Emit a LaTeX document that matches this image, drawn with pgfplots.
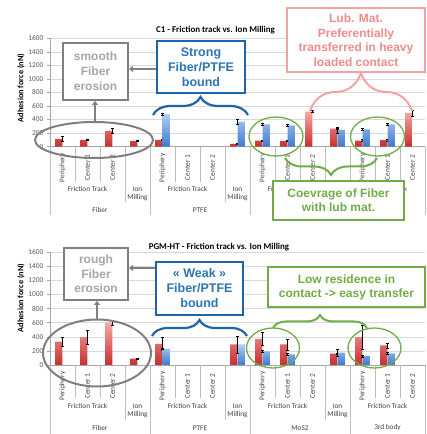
\documentclass[border=0pt]{standalone}
\usepackage{pgfplots}
\pgfplotsset{compat=1.18}
\usepackage{pgfplotstable}
\usepackage{fontspec}
\setmainfont{Carlito}
\newfontfamily\annfont{Liberation Sans}
\usetikzlibrary{decorations.pathreplacing,arrows.meta}

\definecolor{redtop}{HTML}{F6A8A8}
\definecolor{redbot}{HTML}{C62F2D}
\definecolor{bluetop}{HTML}{B0CEF2}
\definecolor{bluebot}{HTML}{3D79CF}
\definecolor{gridgray}{HTML}{D9D9D9}
\definecolor{axgray}{HTML}{A6A6A6}
\definecolor{sepgray}{HTML}{BFBFBF}
\definecolor{labgray}{HTML}{404040}
\definecolor{tickgray}{HTML}{595959}
\definecolor{anngray}{HTML}{808080}
\definecolor{anngraytext}{HTML}{A6A6A6}
\definecolor{annblue}{HTML}{1F63A8}
\definecolor{annbluetext}{HTML}{2E75B6}
\definecolor{annpink}{HTML}{F4A3A3}
\definecolor{annpinktext}{HTML}{F08C8C}
\definecolor{anngreen}{HTML}{70AD47}

% C1 - Friction track vs. Ion Milling
\pgfplotstableread{
x y e
0 114 40
1 99 8
2 232 40
3 84 8
4 99 10
7 40 5
8 89 10
9 84 8
10 519 12
11 267 8
12 89 15
13 99 12
14 494 40
}\topred
\pgfplotstableread{
x y e
4 479 12
7 370 35
8 331 12
9 316 10
11 247 45
12 257 10
13 331 15
}\topblue
% PGM-HT - Friction track vs. Ion Milling
\pgfplotstableread{
x y e
0 333 60
1 395 105
2 600 30
3 90 10
4 300 90
7 292 120
8 372 95
9 292 80
11 160 8
12 395 165
13 278 35
}\botred
\pgfplotstableread{
x y e
4 228 10
7 292 120
8 193 10
9 150 10
11 174 45
12 127 10
13 165 10
}\botblue

\newcommand{\catfont}{\fontsize{7.3}{8}\selectfont}

\pgfplotsset{
  adh/.style={
    scale only axis, width=375pt,
    xmin=-0.5, xmax=14.5, ymin=0, ymax=1600,
    axis lines*=left,
    axis line style={draw=axgray, line width=0.6pt},
    ymajorgrids, grid style={draw=gridgray, line width=0.6pt},
    ytick={0,200,...,1600},
    tick align=outside, major tick length=3pt,
    ytick style={draw=axgray, line width=0.6pt},
    xtick={0,...,14},
    xtick style={draw=none},
    xticklabels={Periphery,Center 1,Center 2,,Periphery,Center 1,Center 2,,Periphery,Center 1,Center 2,,Periphery,Center 1,Center 2},
    xticklabel style={yshift=-18pt, rotate=90, anchor=center, font=\catfont, text=labgray},
    yticklabel style={font=\fontsize{7.4}{8}\selectfont, text=tickgray},
    /pgf/number format/assume math mode=true,
    /pgf/number format/1000 sep={},
    clip=false,
  },
  redbar/.style={ybar, bar width=0.29, bar shift=-0.15, draw=none, top color=redtop, bottom color=redbot,
    error bars/.cd, y dir=both, y explicit,
    error bar style={black, line width=0.5pt},
    error mark options={black, line width=0.5pt, mark size=1.3pt, rotate=90}},
  bluebar/.style={ybar, bar width=0.29, bar shift=0.15, draw=none, top color=bluetop, bottom color=bluebot,
    error bars/.cd, y dir=both, y explicit,
    error bar style={black, line width=0.5pt},
    error mark options={black, line width=0.5pt, mark size=1.3pt, rotate=90}},
}

\begin{document}
\begin{tikzpicture}
\path[use as bounding box] (0pt,0pt) rectangle (427pt,434pt);

\begin{axis}[adh, height=108.4pt, at={(50pt,287.3pt)}, anchor=south west]
\addplot[redbar] table[x=x, y=y, y error=e] {\topred};
\addplot[bluebar] table[x=x, y=y, y error=e] {\topblue};
\end{axis}

\begin{axis}[adh, height=112.7pt, at={(50pt,69pt)}, anchor=south west]
\addplot[redbar] table[x=x, y=y, y error=e] {\botred};
\addplot[bluebar] table[x=x, y=y, y error=e] {\botblue};
\end{axis}

\begin{scope}[x=1pt, y=-1pt, shift={(0pt,434pt)}]
% ---------- category table lines ----------
\foreach \yz/\ya/\yb/\yc in {146.7/182/202/215, 365/398/420/434}{
  \foreach \x in {75,100,175,200,275,300,375,400} \draw[sepgray, line width=0.6pt] (\x,\yz) -- (\x,\ya);
  \foreach \x in {125,225,325} \draw[sepgray, line width=0.6pt] (\x,\yz) -- (\x,\yb);
  \foreach \x in {50,150,250,350,425} \draw[sepgray, line width=0.6pt] (\x,\yz) -- (\x,\yc);
}
% top chart: second and third label rows (the MoS2 / 3rd body ones are hidden behind the green box)
\foreach \x in {87.5,187.5,287.5,387.5}
  \node[font=\catfont, text=labgray] at (\x,189) {Friction Track};
\foreach \x in {137.5,237.5}
  \node[font=\catfont, text=labgray, align=center] at (\x,193.5) {Ion\\Milling};
\node[font=\catfont, text=labgray] at (100,210) {Fiber};
\node[font=\catfont, text=labgray] at (200,210) {PTFE};
% bottom chart
\foreach \x in {87.5,187.5,287.5,387.5}
  \node[font=\catfont, text=labgray] at (\x,406) {Friction Track};
\foreach \x in {137.5,237.5,337.5}
  \node[font=\catfont, text=labgray, align=center] at (\x,410.5) {Ion\\Milling};
\node[font=\catfont, text=labgray] at (100,428) {Fiber};
\node[font=\catfont, text=labgray] at (200,428) {PTFE};
\node[font=\catfont, text=labgray] at (300,428) {MoS2};
\node[font=\catfont, text=labgray] at (387.5,428) {3rd body};

% titles and axis labels
\node[font=\bfseries\fontsize{8.9}{9}\selectfont] at (215.5,30) {C1 - Friction track vs. Ion Milling};
\node[font=\bfseries\fontsize{8.9}{9}\selectfont] at (219,247) {PGM-HT - Friction track vs. Ion Milling};
\node[font=\bfseries\fontsize{8.3}{9}\selectfont, rotate=90] at (21,88) {Adhesion force (nN)};
\node[font=\bfseries\fontsize{8.3}{9}\selectfont, rotate=90] at (21,298) {Adhesion force (nN)};

% ---------- annotations: top chart ----------
\draw[anngray, line width=2pt] (94,140) ellipse[x radius=59, y radius=18];
\draw[anngray, line width=2pt, -{Triangle[length=4pt,width=6pt]}] (95,122) -- (95,101);
\draw[anngray, line width=2pt, -{Triangle[length=4pt,width=6pt]}] (157,69) -- (129,69);
\node[draw=anngray, line width=2pt, fill=white, minimum width=65pt, minimum height=57pt, inner sep=0pt,
  text=anngraytext, font=\annfont\bfseries\fontsize{12}{15}\selectfont, align=center] at (95.5,71.5) {smooth\\Fiber\\erosion};
\node[draw=annblue, line width=2.2pt, fill=white, minimum width=88pt, minimum height=52pt, inner sep=0pt,
  text=annbluetext, font=\annfont\bfseries\fontsize{12.5}{15}\selectfont, align=center] at (201,67) {Strong\\Fiber/PTFE\\bound};
\draw[annblue, line width=2.2pt, decorate, decoration={brace, amplitude=18pt}] (153,115) -- (248,115);

\draw[annpink, line width=2pt, decorate, decoration={brace, amplitude=38pt}] (310,111) -- (412,111);
\node[draw=annpink, line width=2pt, fill=white, minimum width=138pt, minimum height=64pt, inner sep=0pt,
  text=annpinktext, font=\annfont\bfseries\fontsize{12}{14.5}\selectfont, align=center] at (356,40) {Lub. Mat.\\Preferentially\\transferred in heavy\\loaded contact};

\draw[anngreen, line width=1.3pt] (276,136.5) ellipse[x radius=27, y radius=19.5];
\draw[anngreen, line width=1.3pt] (377.5,136.5) ellipse[x radius=27, y radius=19.5];
\draw[anngreen, line width=2pt, decorate, decoration={brace, amplitude=17pt}] (377,158) -- (285,158);
\node[draw=anngreen, line width=2pt, fill=white, minimum width=131pt, minimum height=39pt, inner sep=0pt,
  text=anngreen, font=\annfont\bfseries\fontsize{12}{14}\selectfont, align=center] at (338.5,200.5) {Coevrage of Fiber\\with lub mat.};

% ---------- annotations: bottom chart ----------
\draw[anngray, line width=2pt] (97,353) ellipse[x radius=54, y radius=33.5];
\draw[anngray, line width=2pt, -{Triangle[length=4pt,width=6pt]}] (97,319) -- (97,301);
\draw[anngray, line width=2pt, -{Triangle[length=4pt,width=6pt]}] (156,268) -- (129,268);
\node[draw=anngray, line width=2pt, fill=white, minimum width=64pt, minimum height=52pt, inner sep=0pt,
  text=anngraytext, font=\annfont\bfseries\fontsize{12}{14.5}\selectfont, align=center] at (96,274) {rough\\Fiber\\erosion};
\node[draw=annblue, line width=2.2pt, fill=white, minimum width=87pt, minimum height=53pt, inner sep=0pt,
  text=annbluetext, font=\annfont\bfseries\fontsize{12.5}{15}\selectfont, align=center] at (199.5,288.5) {« Weak »\\Fiber/PTFE\\bound};
\draw[annblue, line width=2.2pt, decorate, decoration={brace, amplitude=16pt}] (152,336) -- (247,336);

\draw[anngreen, line width=1.3pt] (273,348) ellipse[x radius=26.5, y radius=20];
\draw[anngreen, line width=1.3pt] (374.5,348) ellipse[x radius=26.5, y radius=20];
\draw[anngreen, line width=2pt, decorate, decoration={brace, amplitude=13pt}] (273,328) -- (367,328);
\node[draw=anngreen, line width=2pt, fill=white, minimum width=157pt, minimum height=40pt, inner sep=0pt,
  text=anngreen, font=\annfont\bfseries\fontsize{12}{14}\selectfont, align=center] at (346.5,287) {Low residence in\\contact -> easy transfer};
\end{scope}
\end{tikzpicture}
\end{document}
